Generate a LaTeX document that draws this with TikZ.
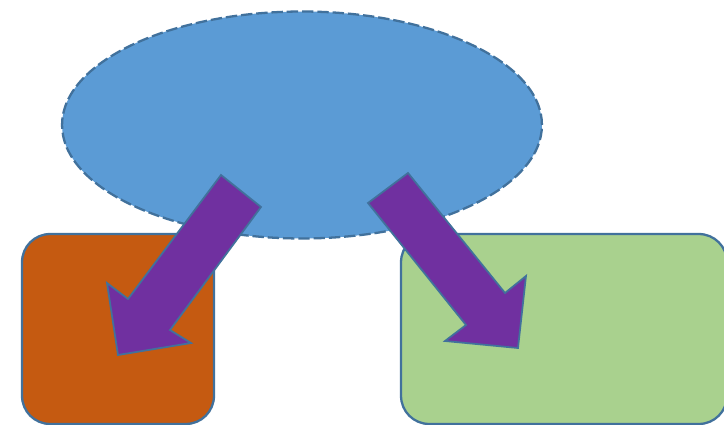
\documentclass[tikz,border=0pt]{standalone}
\usepackage{tikz}
\definecolor{skyblue}{HTML}{5B9BD5}
\definecolor{edgeblue}{HTML}{41719C}
\definecolor{burntorange}{HTML}{C55A11}
\definecolor{leafgreen}{HTML}{A9D18E}
\definecolor{royalpurple}{HTML}{7030A0}
\usetikzlibrary{shapes.geometric}

\begin{document}
\begin{tikzpicture}[x=0.02cm,y=-0.02cm,
    box/.style={draw=edgeblue,line width=1.3pt,rounded corners=16pt,
        minimum height=3.8cm,inner sep=0pt},
    blockarrow/.style={fill=royalpurple,draw=edgeblue,line width=1pt,line join=miter}
]
\useasboundingbox[fill=white] (0,0) rectangle (724,425);
\node[ellipse,fill=skyblue,draw=edgeblue,line width=1.3pt,
    dash pattern=on 6.5pt off 2.2pt,
    minimum width=9.6cm,minimum height=4.54cm,inner sep=0pt] (source) at (302,125) {};
\node[box,fill=burntorange,minimum width=3.84cm] (left) at (118,329) {};
\node[box,fill=leafgreen,minimum width=6.52cm] (right) at (564,329) {};
% block arrows
\draw[blockarrow] (221,175) -- (261,207) -- (170,330) -- (191,343)
    -- (118,355) -- (107,283) -- (128,299) -- cycle;
\draw[blockarrow] (408,173) -- (368,203) -- (466,325) -- (445,341)
    -- (518,348) -- (526,276) -- (505,293) -- cycle;
\end{tikzpicture}
\end{document}
